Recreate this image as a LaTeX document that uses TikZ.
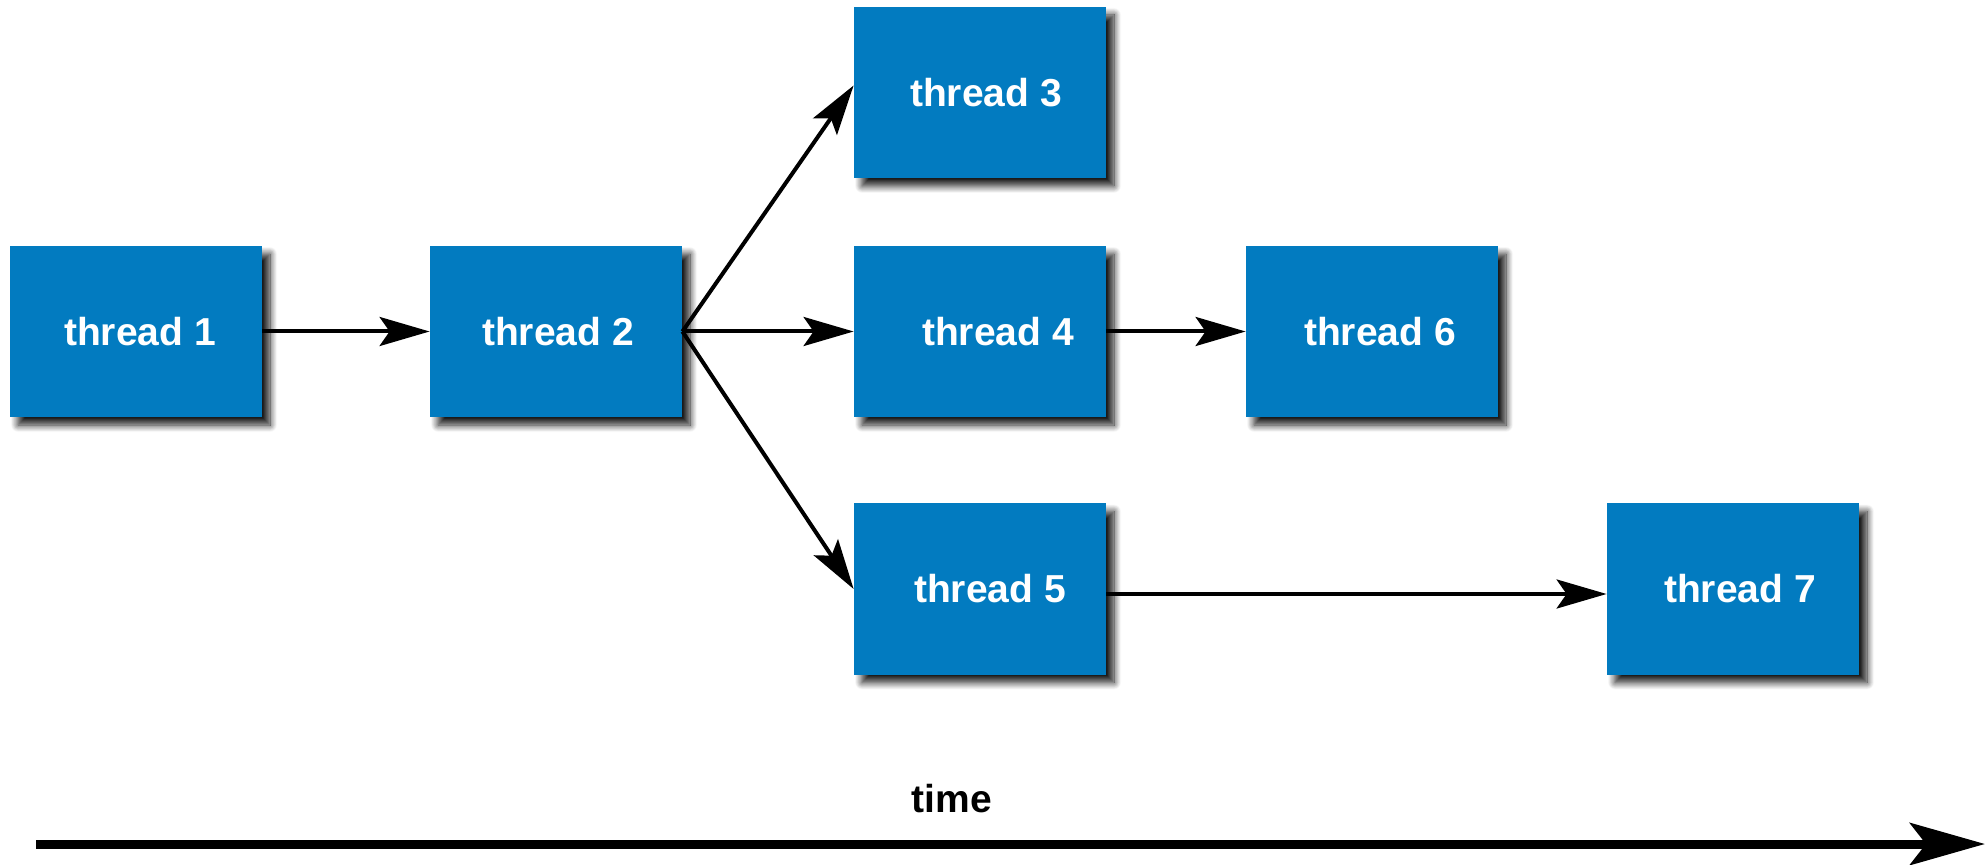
\documentclass[tikz,border=0pt]{standalone}
\usepackage{fontspec}
\setmainfont{Liberation Sans}
\usetikzlibrary{arrows.meta,shadows.blur}
\definecolor{boxblue}{RGB}{2,123,192}
\tikzset{
  threadbox/.style={rectangle, fill=boxblue, draw=none, minimum width=126pt, minimum height=85.5pt,
    inner sep=0pt, text=white, font=\fontsize{19.5}{23}\selectfont\bfseries,
    blur shadow={shadow xshift=4pt, shadow yshift=-4pt, shadow blur radius=3.5pt, shadow opacity=90, shadow blur steps=12}},
  flow/.style={draw=black, line width=2pt, -{Stealth[length=25pt, width=14.5pt, inset=5pt]}},
  timeline/.style={draw=black, line width=4.5pt, -{Stealth[length=37.5pt, width=21pt, inset=8pt]}},
  timelabel/.style={font=\fontsize{19.5}{23}\selectfont\bfseries, text=black, inner sep=0pt}
}
\begin{document}
\begin{tikzpicture}[x=0.5pt, y=-0.5pt]
  \useasboundingbox (0,0) rectangle (1985,865);
  \node[threadbox] (t1) at (136,331.5) {\hspace*{4pt}thread 1};
  \node[threadbox] (t2) at (556,331.5) {\hspace*{2pt}thread 2};
  \node[threadbox] (t3) at (980,92.5) {\hspace*{6pt}thread 3};
  \node[threadbox] (t4) at (980,331.5) {\hspace*{18pt}thread 4};
  \node[threadbox] (t6) at (1372,331.5) {\hspace*{8pt}thread 6};
  \node[threadbox] (t5) at (980,589) {\hspace*{10pt}thread 5};
  \node[threadbox] (t7) at (1733,589) {\hspace*{7pt}thread 7};
  \draw[flow] (t1.east) -- (t2.west);
  \draw[flow] (t2.east) -- ([yshift=3.5pt]t3.west);
  \draw[flow] (t2.east) -- (t4.west);
  \draw[flow] (t2.east) -- (t5.west);
  \draw[flow] (t4.east) -- (t6.west);
  \draw[flow] ([yshift=-2.5pt]t5.east) -- ([yshift=-2.5pt]t7.west);
  \coordinate (ts) at (36,844);
  \coordinate (te) at (1985,844);
  \draw[timeline] (ts) -- (te);
  \node[timelabel] (tl) at (952,799) {time};
\end{tikzpicture}
\end{document}
